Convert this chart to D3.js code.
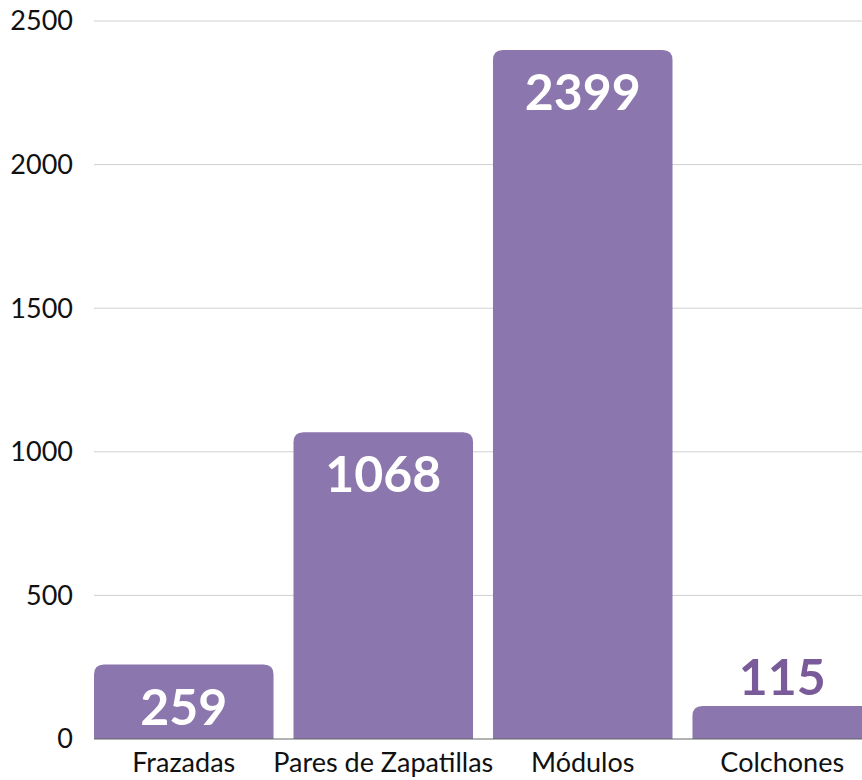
<!DOCTYPE html>
<html><head><meta charset="utf-8">
<script src="https://cdn.jsdelivr.net/npm/d3@7"></script>
<style>body{margin:0;background:#fff}svg{display:block}</style>
</head><body>
<svg id="c" width="862" height="780"></svg>
<script>
const categories = ["Frazadas", "Pares de Zapatillas", "Módulos", "Colchones"];
const values = [259, 1068, 2399, 115];
const yTicks = [0, 500, 1000, 1500, 2000, 2500];

const svg = d3.select("#c");
const x = d3.scaleBand().domain(categories).range([94, 872]).paddingInner(0.1).paddingOuter(0);
const y = d3.scaleLinear().domain([0, 2500]).range([739, 21]);
const font = "Lato, 'Open Sans', sans-serif";

svg.append("g").selectAll("line").data(yTicks.filter(d => d > 0)).join("line")
  .attr("x1", 94).attr("x2", 862).attr("y1", d => y(d)).attr("y2", d => y(d))
  .attr("stroke", "#d0d0d0").attr("stroke-width", 1);

svg.append("g").selectAll("text").data(yTicks).join("text")
  .attr("x", 73).attr("y", d => y(d)).attr("dy", "0.35em")
  .attr("text-anchor", "end").attr("font-family", font).attr("font-size", 27)
  .attr("fill", "#111").text(d => d);

const r = 10;
function barPath(d, i) {
  const x0 = x(categories[i]), w = x.bandwidth(), y0 = y(d), yb = y(0);
  return `M${x0},${yb}V${y0 + r}Q${x0},${y0} ${x0 + r},${y0}H${x0 + w - r}Q${x0 + w},${y0} ${x0 + w},${y0 + r}V${yb}Z`;
}
svg.append("g").selectAll("path").data(values).join("path")
  .attr("d", barPath).attr("fill", "#8B76AD");

svg.append("line").attr("x1", 94).attr("x2", 862).attr("y1", y(0)).attr("y2", y(0))
  .attr("stroke", "#666").attr("stroke-width", 1);

svg.append("g").selectAll("text").data(categories).join("text")
  .attr("x", d => x(d) + x.bandwidth() / 2).attr("y", 772)
  .attr("text-anchor", "middle").attr("font-family", font).attr("font-size", 27)
  .attr("fill", "#111").text(d => d);

const inside = d => (y(0) - y(d)) > 50;
svg.append("g").selectAll("text").data(values).join("text")
  .attr("x", (d, i) => x(categories[i]) + x.bandwidth() / 2)
  .attr("y", d => inside(d) ? y(d) + 60 : y(d) - 11)
  .attr("text-anchor", "middle").attr("font-family", font).attr("font-weight", 700)
  .attr("font-size", 50)
  .attr("fill", d => inside(d) ? "#fff" : "#7A5B9A")
  .text(d => d);
</script>
</body></html>
